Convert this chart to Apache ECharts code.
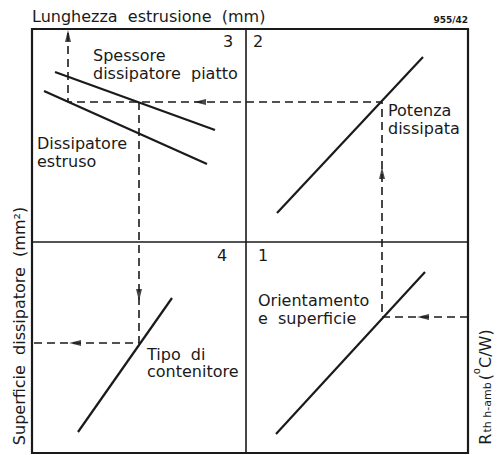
<!DOCTYPE html>
<html><head><meta charset="utf-8">
<script src="https://cdn.jsdelivr.net/npm/echarts@6/dist/echarts.min.js"></script>
<style>html,body{margin:0;padding:0;background:#fff}#c{width:498px;height:455px}</style>
</head><body><div id="c"></div>
<script>
// Nomogram drawn in arbitrary units: x runs across the frame, y runs up it
const frameX = [0, 436];
const frameY = [0, 424];
const quadrantSplitX = 214;
const quadrantSplitY = 211;

// Characteristic line of each quadrant (two endpoints each)
const piattoLine = [[23, 381], [183, 323]];
const estrusoLine = [[12, 362], [175, 289]];
const potenzaLine = [[245, 240], [391, 396]];
const orientamentoLine = [[244, 19], [393, 181]];
const contenitoreLine = [[46, 21], [140, 155]];

// Worked example: from R_th (right edge) round to the extrusion length (top edge)
const examplePath = [[436, 136], [350, 136], [350, 351], [36, 351], [36, 424]];
// Branch down to the heat-sink surface (left edge)
const exampleBranch = [[107, 351], [107, 110], [0, 110]];

// Arrow heads along the example: x, y, direction
const arrowHeads = [
  [36, 417, 'up'], [168, 351, 'left'], [107, 158, 'down'],
  [350, 280, 'up'], [391, 136, 'left'], [43, 110, 'left']
];

const INK = '#1a1a1a';
const FONT = '"DejaVu Sans", sans-serif';
const rot = { up: 0, left: 90, down: 180, right: -90 };

function solid(data, w) {
  return { type: 'line', data, showSymbol: false, symbol: 'none', silent: true,
    lineStyle: { color: INK, width: w }, z: 3 };
}
function dashed(data) {
  return { type: 'line', data, showSymbol: false, symbol: 'none', silent: true,
    lineStyle: { color: INK, width: 1.6, type: [8, 5] }, z: 2 };
}

function txt(x, y, text, opts, extra) {
  return Object.assign({
    type: 'text', x, y, silent: true,
    style: Object.assign({ text, fill: INK, font: '16px ' + FONT, textAlign: 'left', textVerticalAlign: 'middle' }, opts || {})
  }, extra || {});
}

const chart = echarts.init(document.getElementById('c'), null, { renderer: 'svg' });
chart.setOption({
  animation: false,
  backgroundColor: '#fff',
  grid: { left: 32, top: 29, width: 436, height: 424, show: true, borderColor: INK, borderWidth: 2.2, backgroundColor: 'transparent' },
  xAxis: { type: 'value', min: frameX[0], max: frameX[1], show: false },
  yAxis: { type: 'value', min: frameY[0], max: frameY[1], show: false },
  series: [
    solid([[quadrantSplitX, frameY[0]], [quadrantSplitX, frameY[1]]], 1.6),
    solid([[frameX[0], quadrantSplitY], [frameX[1], quadrantSplitY]], 1.6),
    solid(piattoLine, 2.2),
    solid(estrusoLine, 2.2),
    solid(potenzaLine, 2.2),
    solid(orientamentoLine, 2.2),
    solid(contenitoreLine, 2.2),
    dashed(examplePath),
    dashed(exampleBranch),
    {
      type: 'scatter', silent: true, z: 4,
      symbol: 'triangle', symbolSize: [6, 12],
      itemStyle: { color: INK },
      data: arrowHeads.map(a => ({ value: [a[0], a[1]], symbolRotate: rot[a[2]] }))
    }
  ],
  graphic: [
    txt(32, 16, 'Lunghezza  estrusione  (mm)'),
    txt(468, 20, '955/42', { font: 'bold 9px ' + FONT, textAlign: 'right' }),
    txt(223, 41, '3'),
    txt(253, 41, '2'),
    txt(258, 255, '1'),
    txt(217, 255, '4'),
    txt(93, 55, 'Spessore'),
    txt(93, 73, 'dissipatore  piatto'),
    txt(37, 143, 'Dissipatore'),
    txt(37, 161, 'estruso'),
    txt(388, 110, 'Potenza'),
    txt(388, 128, 'dissipata'),
    txt(258, 300, 'Orientamento'),
    txt(258, 318, 'e  superficie'),
    txt(147, 354, 'Tipo  di'),
    txt(147, 371, 'contenitore'),
    txt(19, 326, 'Superficie  dissipatore  (mm²)', { textAlign: 'center' }, { rotation: Math.PI / 2 }),
    {
      type: 'text', x: 482, y: 387, rotation: Math.PI / 2, silent: true,
      style: {
        text: '{r|R}{s|th h-amb}{p|(}{d|o}{p|C/W)}',
        textAlign: 'center', textVerticalAlign: 'middle', fill: INK,
        rich: {
          r: { font: '16px ' + FONT, fill: INK, verticalAlign: 'bottom', lineHeight: 20 },
          s: { font: '11px ' + FONT, fill: INK, verticalAlign: 'bottom', lineHeight: 14, padding: [0, 2, 0, 1] },
          p: { font: '16px ' + FONT, fill: INK, verticalAlign: 'bottom', lineHeight: 22 },
          d: { font: '10px ' + FONT, fill: INK, verticalAlign: 'top', lineHeight: 22 }
        }
      }
    }
  ]
});
</script></body></html>
